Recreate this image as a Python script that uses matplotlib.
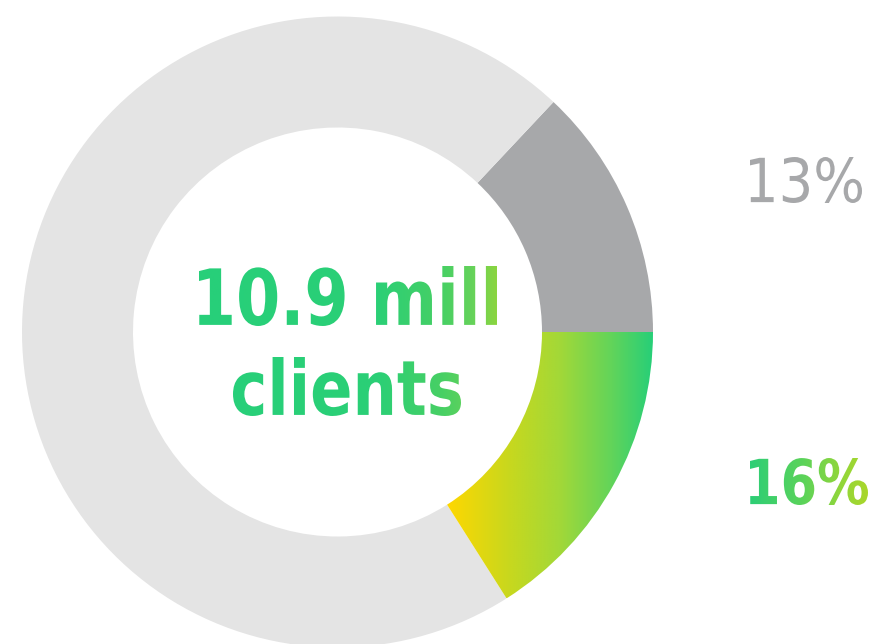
import matplotlib
matplotlib.use("Agg")
import matplotlib.pyplot as plt
import numpy as np
from matplotlib.colors import LinearSegmentedColormap
from matplotlib.font_manager import FontProperties
from matplotlib.patches import PathPatch, Wedge
from matplotlib.textpath import TextPath
from matplotlib.transforms import Affine2D

# client base split, counter-clockwise from the lower right
segments = ["new", "returning", "other"]
shares = [16, 13, 71]
headline = ["10.9 mill", "clients"]

LIGHT_GREY = "#e4e4e4"
MID_GREY = "#a7a8aa"
ring_cmap = LinearSegmentedColormap.from_list(
    "ring", [(0.0, "#ffd700"), (0.3, "#c8d81e"), (0.55, "#a2d838"),
             (0.8, "#62d45a"), (1.0, "#27cf78")])
headline_cmap = LinearSegmentedColormap.from_list(
    "headline", [(0.0, "#27cf7a"), (0.6, "#2bcf76"), (0.82, "#48d064"),
                 (0.92, "#66d25a"), (1.0, "#8ad540")])
label_cmap = LinearSegmentedColormap.from_list(
    "label", [(0.0, "#2dce76"), (0.45, "#5bd35a"), (0.75, "#8ed63c"),
              (1.0, "#aad72b")])

W, H = 877, 644
fig = plt.figure(figsize=(W / 100, H / 100), dpi=100)
ax = fig.add_axes([0, 0, 1, 1])
ax.set_xlim(0, W)
ax.set_ylim(0, H)
ax.axis("off")

cx, cy = 337.5, H - 332
r_out, ring_w = 315.5, 111


def gradient_fill(ax, clip_patch, cmap, x0, x1, y0, y1):
    """Paint a left-to-right gradient, clipped to a patch."""
    grad = np.linspace(0, 1, 256)[None, :]
    im = ax.imshow(grad, cmap=cmap, extent=(x0, x1, y0, y1), origin="lower",
                   interpolation="bilinear", aspect="auto", zorder=3)
    im.set_clip_path(clip_patch)


def fitted_text_path(s, box, prop):
    """Text outline scaled to fill box = (x0, y0, x1, y1)."""
    path = TextPath((0, 0), s, prop=prop, size=100)
    ext = path.get_extents()
    x0, y0, x1, y1 = box
    tr = (Affine2D().translate(-ext.x0, -ext.y0)
          .scale((x1 - x0) / ext.width, (y1 - y0) / ext.height)
          .translate(x0, y0))
    return tr.transform_path(path)


# donut ring
angles = np.concatenate([[0], np.cumsum(shares)]) * 3.6 - shares[0] * 3.6
fills = ["gradient", MID_GREY, LIGHT_GREY]
for (a0, a1, fill) in zip(angles[:-1], angles[1:], fills):
    wedge = Wedge((cx, cy), r_out, a0, a1, width=ring_w, linewidth=0,
                  facecolor=LIGHT_GREY if fill == "gradient" else fill,
                  zorder=2)
    ax.add_patch(wedge)
    if fill == "gradient":
        wedge.set_facecolor("none")
        ext = wedge.get_path().get_extents(wedge.get_transform() - ax.transData)
        gradient_fill(ax, wedge, ring_cmap, ext.x0, ext.x1, ext.y0, ext.y1)

bold = FontProperties(family="DejaVu Sans", weight="bold")
regular = FontProperties(family="DejaVu Sans")

# centre headline with gradient fill
head_boxes = [(199, H - 326, 497, H - 266), (233, H - 416, 461, H - 357)]
for line, box in zip(headline, head_boxes):
    tp = fitted_text_path(line, box, bold)
    patch = PathPatch(tp, facecolor="none", edgecolor="none",
                      transform=ax.transData)
    ax.add_patch(patch)
    gradient_fill(ax, patch, headline_cmap, 199, 497, box[1] - 2, box[3] + 2)

# share labels on the right
grey_lbl = fitted_text_path(f"{shares[1]}%", (750, H - 203, 862, H - 157),
                            regular)
ax.add_patch(PathPatch(grey_lbl, facecolor=MID_GREY, edgecolor="none",
                       zorder=3))

green_box = (750, H - 505, 868, H - 458)
green_lbl = fitted_text_path(f"{shares[0]}%", green_box, bold)
patch = PathPatch(green_lbl, facecolor="none", edgecolor="none",
                  transform=ax.transData)
ax.add_patch(patch)
gradient_fill(ax, patch, label_cmap, green_box[0], green_box[2],
              green_box[1] - 2, green_box[3] + 2)

fig.savefig("out.png", dpi=100, facecolor="white")
